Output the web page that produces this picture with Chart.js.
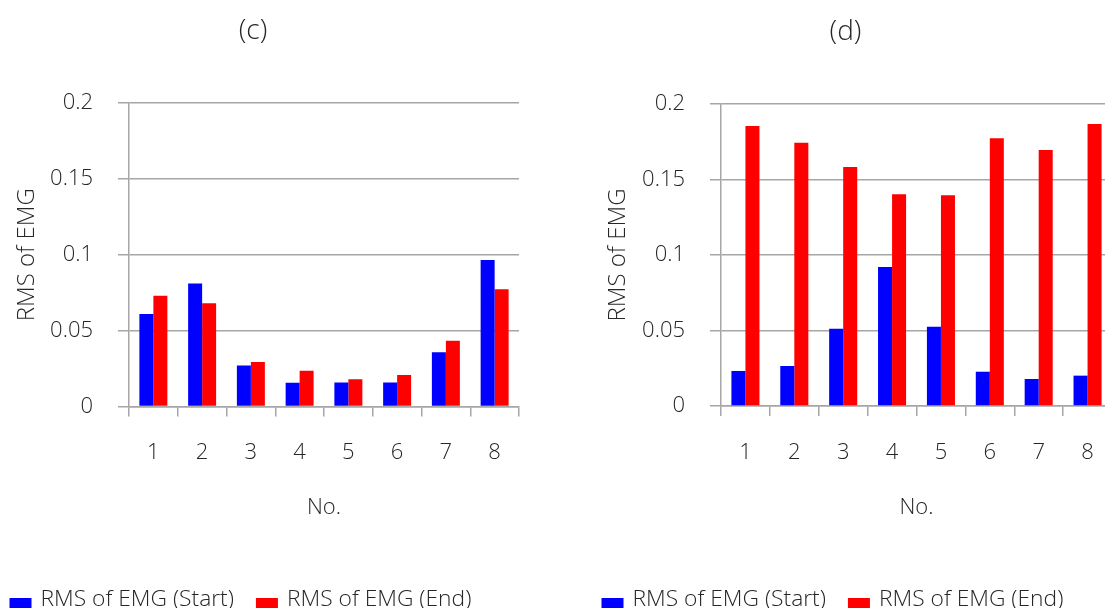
<!DOCTYPE html>
<html>
<head>
<meta charset="utf-8">
<title>RMS of EMG</title>
<script src="https://cdn.jsdelivr.net/npm/chart.js@4.4.1/dist/chart.umd.min.js"></script>
<style>
  html, body { margin: 0; padding: 0; background: #ffffff; }
  body { width: 1105px; height: 608px; overflow: hidden; position: relative; }
  canvas { position: absolute; top: 0; }
  #panelC { left: 0; }
  #panelD { left: 560px; }
</style>
</head>
<body>
<canvas id="panelC" width="560" height="608"></canvas>
<canvas id="panelD" width="560" height="608"></canvas>
<script>
// Electrode / trial numbers on the x axis
const categories = ['1', '2', '3', '4', '5', '6', '7', '8'];

// Panel (c): RMS of EMG at the start and at the end
const startC = [0.061, 0.081, 0.027, 0.0157, 0.0158, 0.0158, 0.0358, 0.0966];
const endC   = [0.073, 0.068, 0.0294, 0.0235, 0.018, 0.0207, 0.0433, 0.0773];

// Panel (d): RMS of EMG at the start and at the end
const startD = [0.0232, 0.0265, 0.0512, 0.092, 0.0525, 0.0227, 0.0179, 0.0201];
const endD   = [0.1854, 0.1744, 0.1583, 0.1402, 0.1395, 0.1773, 0.1695, 0.1868];

// Value axis ticks
const yTicks = [0, 0.05, 0.1, 0.15, 0.2];
const yTickLabels = ['0', '0.05', '0.1', '0.15', '0.2'];

const seriesNames = ['RMS of EMG (Start)', 'RMS of EMG (End)'];
const seriesColors = ['#0000ff', '#ff0000'];

const FONT = "'Open Sans', 'Noto Sans', sans-serif";
const WEIGHT = '300';
const TEXT = '#262626';
const GRID = '#a6a6a6';

// Panel letter drawn above the plot
const panelCaption = {
  id: 'panelCaption',
  afterDraw(chart, args, opts) {
    const { ctx, chartArea } = chart;
    ctx.save();
    ctx.font = WEIGHT + ' ' + opts.size + 'px ' + FONT;
    ctx.fillStyle = TEXT;
    ctx.textAlign = 'center';
    ctx.textBaseline = 'middle';
    ctx.fillText(opts.text, (chartArea.left + chartArea.right) / 2 + opts.dx, chartArea.top + opts.dy);
    ctx.restore();
  }
};

// Legend row at the bottom: square swatch followed by the series name
const bottomLegend = {
  id: 'bottomLegend',
  afterDraw(chart, args, opts) {
    const { ctx, chartArea } = chart;
    ctx.save();
    ctx.font = WEIGHT + ' ' + opts.size + 'px ' + FONT;
    ctx.textAlign = 'left';
    ctx.textBaseline = 'alphabetic';
    let x = chartArea.left + opts.dx;
    chart.data.datasets.forEach(ds => {
      ctx.fillStyle = ds.backgroundColor;
      ctx.fillRect(x, opts.boxTop, opts.box, opts.box);
      x += opts.box + opts.gap;
      ctx.fillStyle = TEXT;
      ctx.fillText(ds.label, x, opts.baseline);
      x += ctx.measureText(ds.label).width + opts.spacing;
    });
    ctx.restore();
  }
};

function makePanel(id, caption, startVals, endVals, box) {
  const data = {
    labels: categories,
    datasets: [
      { label: seriesNames[0], data: startVals, backgroundColor: seriesColors[0], borderWidth: 0 },
      { label: seriesNames[1], data: endVals, backgroundColor: seriesColors[1], borderWidth: 0 }
    ]
  };
  return new Chart(document.getElementById(id), {
    type: 'bar',
    data,
    plugins: [panelCaption, bottomLegend],
    options: {
      responsive: false,
      animation: false,
      devicePixelRatio: 1,
      layout: { padding: { left: box.padLeft, right: box.padRight, top: box.padTop, bottom: box.padBottom } },
      datasets: { bar: { categoryPercentage: 0.574, barPercentage: 1.0 } },
      plugins: {
        legend: { display: false },
        tooltip: { enabled: false },
        title: { display: false },
        panelCaption: { text: caption, size: 28, dx: -71, dy: -72 },
        bottomLegend: { size: 22.8, box: 22, gap: 9, spacing: 22, dx: -119.5, boxTop: 598, baseline: 605.5 }
      },
      scales: {
        x: {
          offset: true,
          grid: { display: true, drawOnChartArea: false, drawTicks: true, tickLength: 10, color: GRID, lineWidth: 1.5, offset: true },
          border: { display: true, color: GRID, width: 1.5 },
          ticks: { color: TEXT, font: { family: FONT, size: 22, weight: WEIGHT }, padding: 23.5, maxRotation: 0 },
          title: { display: true, text: 'No.', color: TEXT, font: { family: FONT, size: 22, weight: WEIGHT }, padding: { top: 0, bottom: 4 } },
          afterFit(scale) { scale.height = box.xHeight; }
        },
        y: {
          min: 0,
          max: 0.2,
          afterBuildTicks(scale) { scale.ticks = yTicks.map(v => ({ value: v })); },
          grid: { color: GRID, lineWidth: 1.5, drawTicks: true, tickLength: 11 },
          border: { display: true, color: GRID, width: 1.5 },
          ticks: {
            color: TEXT,
            font: { family: FONT, size: 22, weight: WEIGHT },
            padding: 25,
            callback: (v, i) => yTickLabels[i]
          },
          title: { display: true, text: 'RMS of EMG', color: TEXT, font: { family: FONT, size: 24, weight: WEIGHT }, padding: { top: 3, bottom: 0 } },
          afterFit(scale) { scale.width = box.yWidth; }
        }
      }
    }
  });
}

makePanel('panelC', '(c)', startC, endC,
  { padLeft: 10, padRight: 41, padTop: 103, padBottom: 83, yWidth: 119, xHeight: 118.5 });
makePanel('panelD', '(d)', startD, endD,
  { padLeft: 41, padRight: 8, padTop: 104, padBottom: 83, yWidth: 120, xHeight: 119 });
</script>
</body>
</html>
